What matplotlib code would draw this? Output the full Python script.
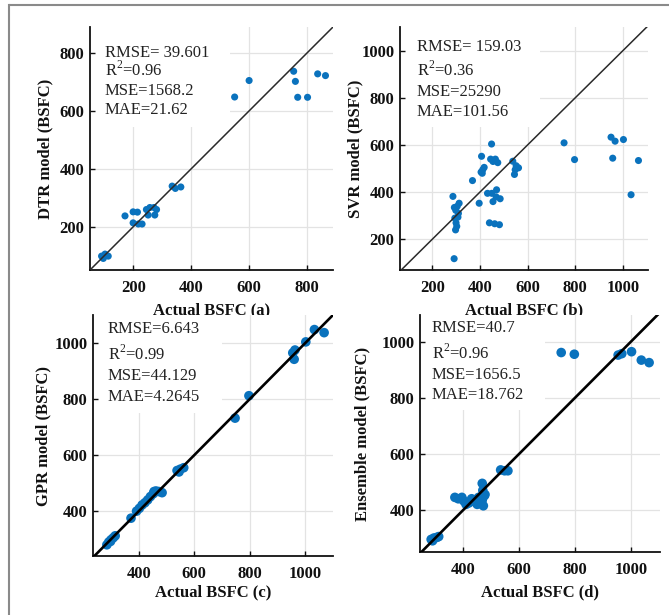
import matplotlib
matplotlib.use("Agg")
import matplotlib.pyplot as plt
from matplotlib.patches import Rectangle
from matplotlib.lines import Line2D

plt.rcParams['font.family'] = ['Liberation Serif', 'DejaVu Serif']
plt.rcParams['mathtext.fontset'] = 'custom'
plt.rcParams['mathtext.rm'] = 'Liberation Serif'

W, H = 669, 615
BLUE = '#0a72bd'

# (a) DTR model
dtr_actual = [90, 102, 113, 96, 171, 199, 214, 199, 217, 230, 245, 257, 271, 280, 251, 274,
              334, 345, 364, 550, 600, 754, 760, 768, 802, 837, 864]
dtr_pred = [98, 105, 98, 90, 237, 251, 250, 213, 209, 209, 259, 266, 266, 259, 240, 240,
            340, 332, 337, 648, 705, 737, 702, 647, 647, 728, 722]

# (b) SVR model
svr_actual = [292, 287, 313, 299, 308, 295, 300, 303, 298, 310, 293, 305,
              369, 397, 407, 405, 412, 418, 410, 449, 445, 465, 475, 455,
              432, 450, 470, 468, 485, 455, 440, 462, 482,
              538, 552, 562, 545, 548, 753, 797, 950, 967, 1002, 957, 1034, 1065]
svr_pred = [118, 382, 353, 323, 294, 290, 270, 255, 240, 310, 335, 340,
            449, 353, 552, 485, 495, 505, 480, 604, 540, 540, 525, 530,
            395, 395, 410, 380, 372, 360, 270, 266, 262,
            531, 512, 503, 475, 495, 609, 538, 633, 616, 623, 544, 389, 534]

# (c) GPR model
gpr_actual = [285, 292, 300, 308, 315, 298, 372, 392, 402, 412, 422, 432, 442, 452, 462, 472,
              484, 455, 538, 550, 562, 545, 747, 797, 955, 963, 960, 1002, 1033, 1068]
gpr_pred = [280, 290, 298, 305, 312, 292, 375, 400, 410, 422, 430, 440, 452, 462, 472, 470,
            466, 470, 545, 550, 555, 540, 732, 812, 965, 975, 942, 1004, 1048, 1037]

# (d) Ensemble model
ens_actual = [285, 295, 305, 312, 290, 370, 382, 395, 402, 410, 420, 430, 440, 450, 455, 462,
              468, 472, 475, 470, 468, 478, 534, 548, 560, 751, 798, 955, 968, 1003, 1038, 1066]
ens_pred = [295, 300, 302, 305, 290, 445, 440, 445, 432, 420, 425, 440, 430, 420, 445, 425,
            435, 415, 450, 470, 495, 455, 543, 540, 540, 962, 956, 953, 958, 965, 935, 926]

panels = [
    dict(x=dtr_actual, y=dtr_pred, ylabel='DTR model (BSFC)', xlabel='Actual BSFC (a)',
         stats=['RMSE= 39.601', 'R$^2$=0.96', 'MSE=1568.2', 'MAE=21.62'],
         ticks=[200, 400, 600, 800], lim=(50, 890), ylim=(50, 890),
         box=(90, 27, 333, 270), white=(230, 127), tx=105, lines=[57, 76, 95, 114],
         ms=26, lw=1.1, lc='#2a2a2a', ylab_x=-0.185, xlab_y=-0.165),
    dict(x=svr_actual, y=svr_pred, ylabel='SVR model (BSFC)', xlabel='Actual BSFC (b)',
         stats=['RMSE= 159.03', 'R$^2$=0.36', 'MSE=25290', 'MAE=101.56'],
         ticks=[200, 400, 600, 800, 1000], lim=(65, 1105), ylim=(70, 1100),
         box=(400, 27, 648, 270), white=(540, 127), tx=417, lines=[51, 76, 96, 116],
         ms=26, lw=1.1, lc='#2a2a2a', ylab_x=-0.181, xlab_y=-0.165),
    dict(x=gpr_actual, y=gpr_pred, ylabel='GPR model (BSFC)', xlabel='Actual BSFC (c)',
         stats=['RMSE=6.643', 'R$^2$=0.99', 'MSE=44.129', 'MAE=4.2645'],
         ticks=[400, 600, 800, 1000], lim=(235, 1100), ylim=(240, 1100),
         box=(93, 315, 333, 556), white=(222, 413), tx=108, lines=[333, 360, 380, 401],
         ms=48, lw=1.9, lc='black', ylab_x=-0.208, xlab_y=-0.149),
    dict(x=ens_actual, y=ens_pred, ylabel='Ensemble model (BSFC)', xlabel='Actual BSFC (d)',
         stats=['RMSE=40.7', 'R$^2$=0.96', 'MSE=1656.5', 'MAE=18.762'],
         ticks=[400, 600, 800, 1000], lim=(245, 1105), ylim=(250, 1096),
         box=(420, 315, 660, 552), white=(545, 410), tx=432, lines=[332, 359, 379, 399],
         ms=48, lw=1.9, lc='black', ylab_x=-0.24, xlab_y=-0.169),
]

fig = plt.figure(figsize=(W / 100, H / 100), dpi=100)

for p in panels:
    x0, y0, x1, y1 = p['box']
    ax = fig.add_axes([x0 / W, 1 - y1 / H, (x1 - x0) / W, (y1 - y0) / H])
    ax.set_xlim(p['lim'])
    ax.set_ylim(p['ylim'])
    ax.set_xticks(p['ticks'])
    ax.set_yticks(p['ticks'])
    for t in p['ticks']:
        ax.axvline(t, color='#e3e3e3', lw=0.9, zorder=0.3)
        ax.axhline(t, color='#e3e3e3', lw=0.9, zorder=0.3)
    # white box behind the stats text
    wx = (p['white'][0] - x0) / (x1 - x0)
    wy = (y1 - p['white'][1]) / (y1 - y0)
    ax.add_patch(Rectangle((0, wy), wx, 1.0 - wy, transform=ax.transAxes,
                           facecolor='white', edgecolor='none', zorder=0.6))
    ax.scatter(p['x'], p['y'], s=p['ms'], color=BLUE, edgecolors='none', zorder=2)
    ax.plot([0, 1200], [0, 1200], color=p['lc'], lw=p['lw'], zorder=3)

    for s in ['top', 'right']:
        ax.spines[s].set_visible(False)
    for s in ['left', 'bottom']:
        ax.spines[s].set_linewidth(1.3)
        ax.spines[s].set_color('#111111')
    ax.tick_params(direction='in', length=3.5, width=1, colors='#111111',
                   labelsize=12, pad=4)
    ax.tick_params(axis='x', pad=7)
    for lab in ax.get_xticklabels() + ax.get_yticklabels():
        lab.set_fontweight('bold')

    ax.set_xlabel(p['xlabel'], fontsize=12, fontweight='bold', va='center', color='#111111')
    ax.set_ylabel(p['ylabel'], fontsize=12, fontweight='bold', va='center', color='#111111')
    ax.xaxis.set_label_coords(0.5, p['xlab_y'])
    ax.yaxis.set_label_coords(p['ylab_x'], 0.5)

    for txt, ly in zip(p['stats'], p['lines']):
        fig.text(p['tx'] / W, 1 - ly / H, txt, fontsize=12, color='#222222',
                 ha='left', va='baseline')

# outer frame (only top and left edges are inside the picture)
fig.add_artist(Line2D([10 / W, 1.0], [1 - 5 / H, 1 - 5 / H], color='#8a8a8a', lw=1.5))
fig.add_artist(Line2D([9 / W, 9 / W], [1 - 5 / H, 0.0], color='#8a8a8a', lw=1.5))

fig.savefig('out.png', dpi=100)
